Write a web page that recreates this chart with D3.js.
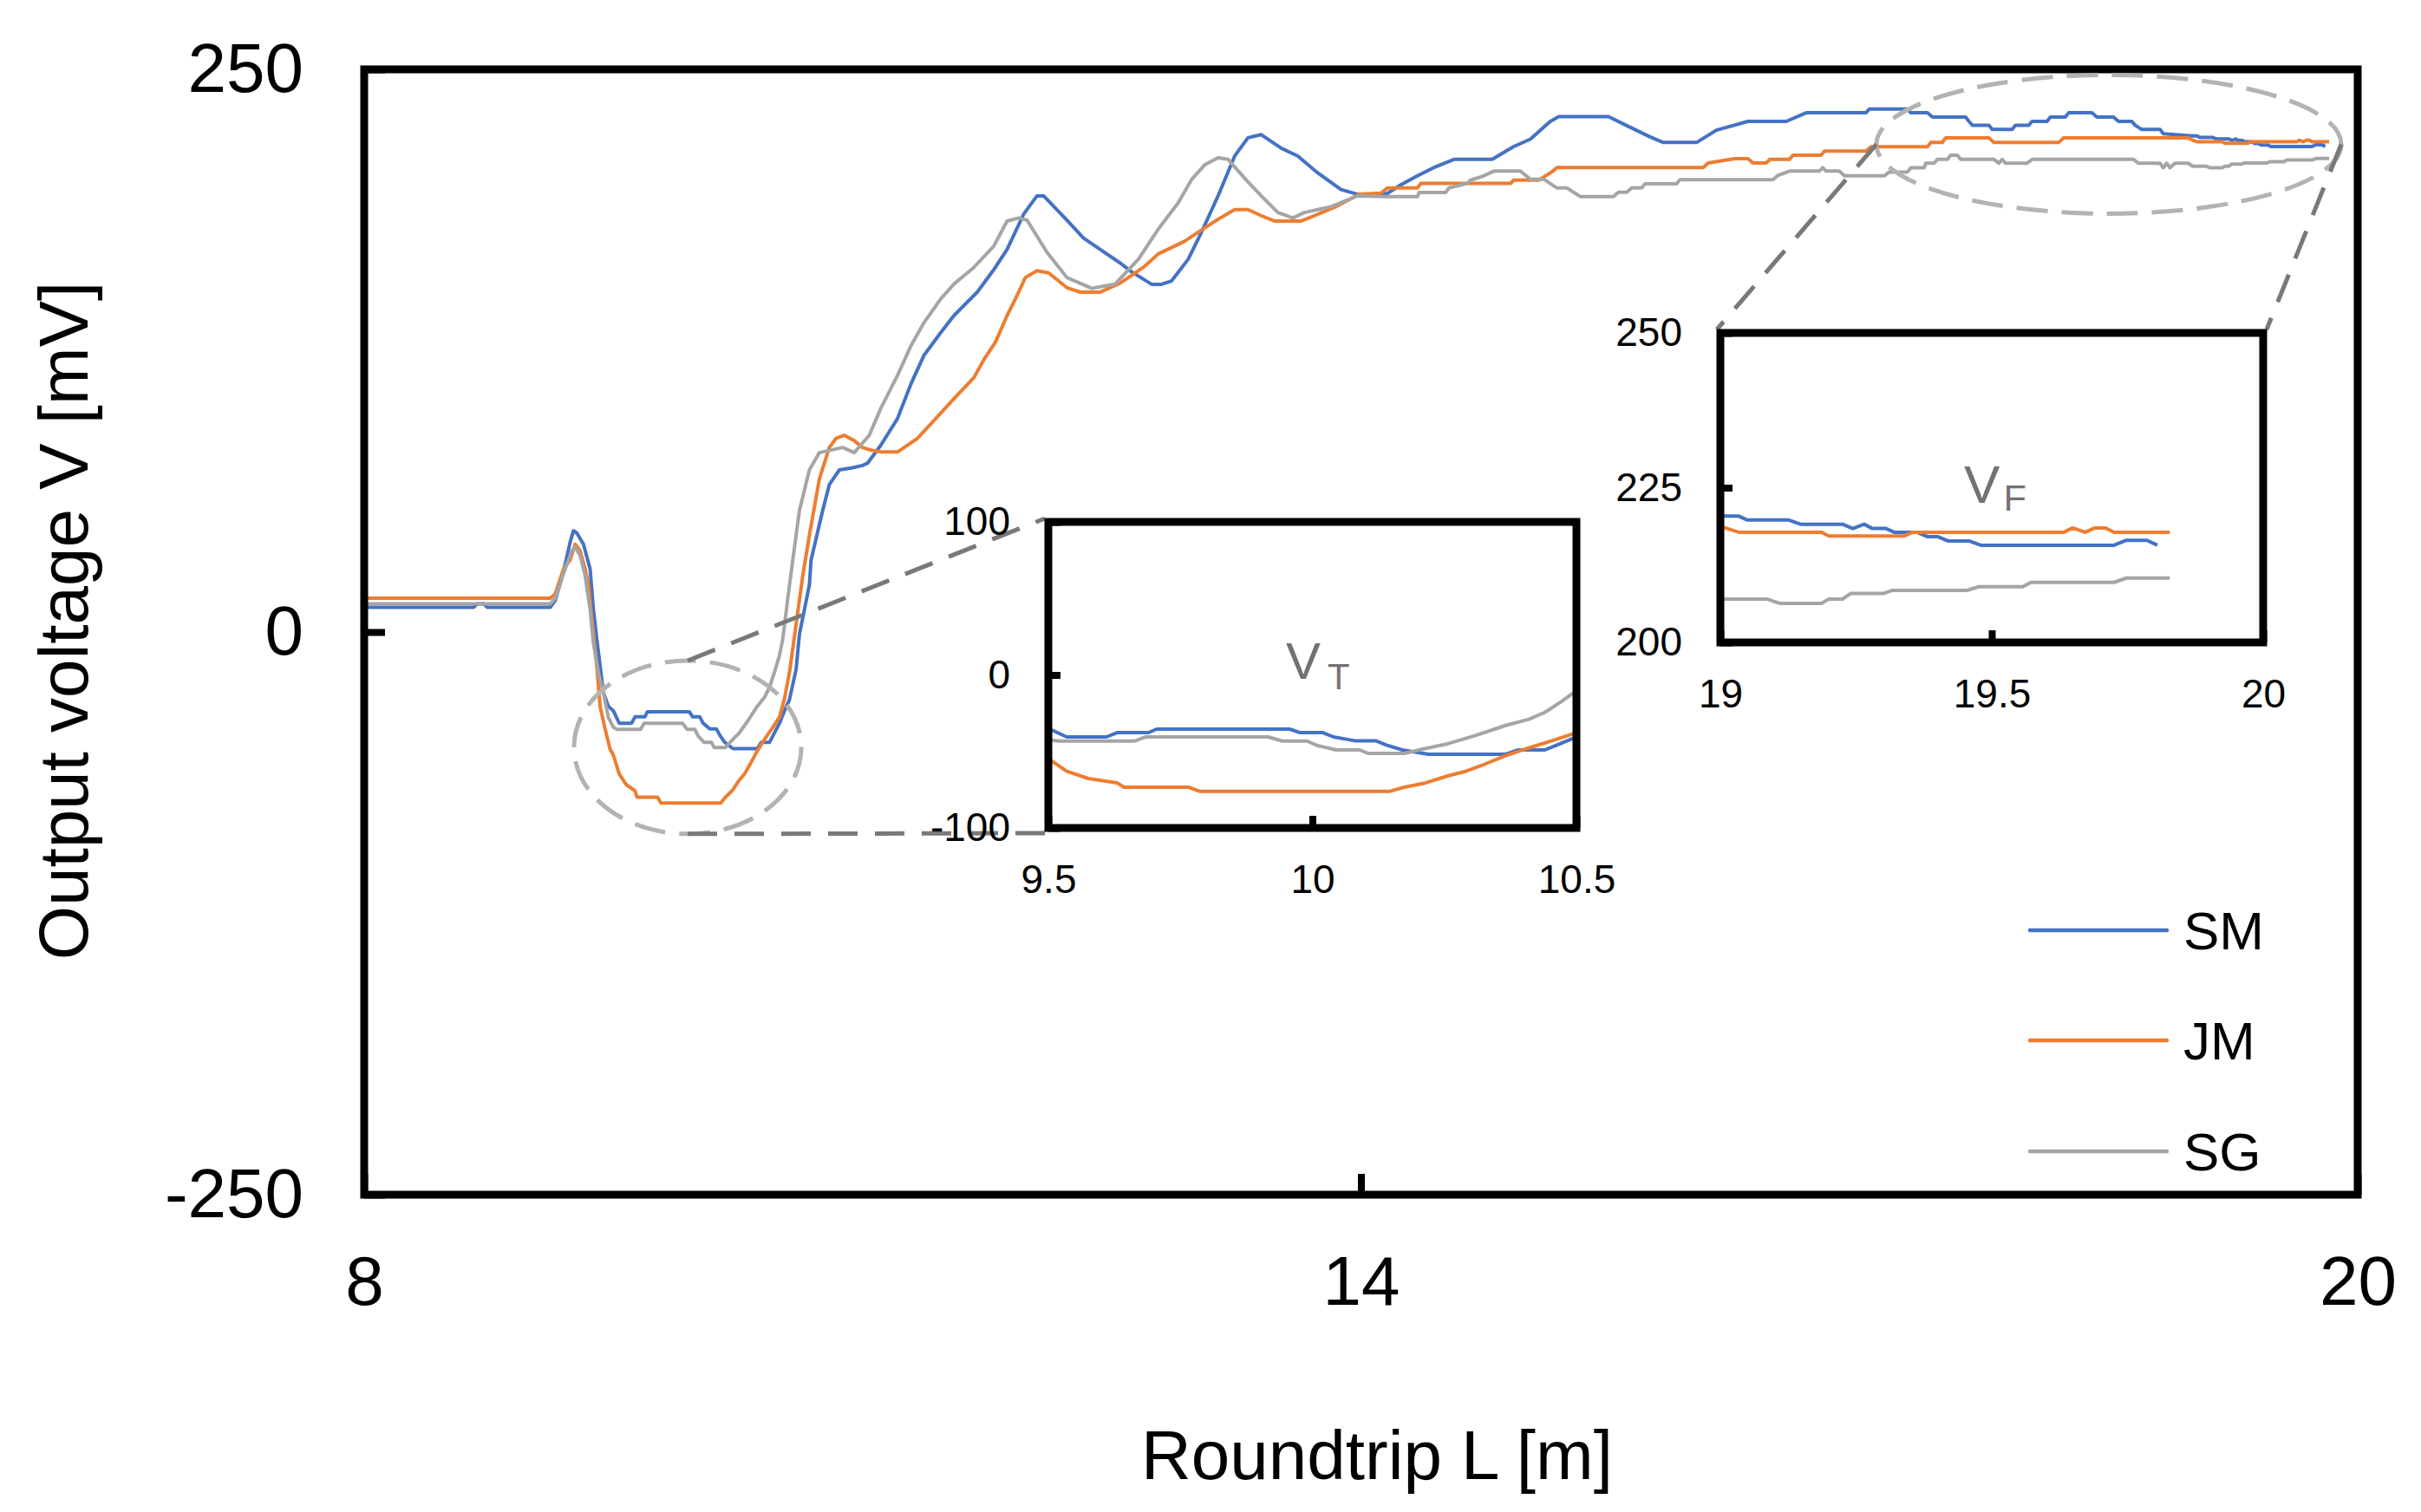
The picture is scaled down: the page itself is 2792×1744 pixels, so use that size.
<!DOCTYPE html>
<html>
<head>
<meta charset="utf-8">
<script src="https://cdn.jsdelivr.net/npm/d3@7"></script>
<style>
  body { margin: 0; background: #fff; }
</style>
</head>
<body>
<script>
// ---- data: [roundtrip L (m), output voltage V (mV)] ----
const smData = [
  [8.00,11],[8.66,11],[8.68,12.5],[8.72,12.5],[8.74,11],[9.12,11],[9.15,14],[9.20,27],[9.24,40],[9.26,45],
  [9.28,44],[9.32,39],[9.36,28],[9.38,10],[9.40,-3],[9.44,-27],[9.47,-33],[9.50,-35],[9.535,-40.5],[9.61,-40.5],
  [9.63,-37.7],[9.69,-37.7],[9.705,-35.4],[9.957,-35.4],[9.977,-37.7],[10.02,-37.7],[10.04,-40.5],[10.08,-43],
  [10.12,-43],[10.14,-45.8],[10.17,-49],[10.22,-51.8],[10.366,-51.8],[10.39,-49],[10.44,-49],[10.46,-46.2],
  [10.50,-40.5],[10.53,-35],[10.56,-30],[10.60,-16.5],[10.62,-1],[10.68,21],[10.69,32],[10.76,54],[10.80,65.5],
  [10.86,72],[10.94,73],[11.00,74],[11.03,75],[11.11,83],[11.21,94.8],[11.29,110],[11.37,123],[11.47,133],
  [11.55,140.6],[11.69,151],[11.79,161],[11.87,170],[11.97,185.7],[12.05,193.8],[12.09,193.8],[12.23,183],
  [12.33,175],[12.43,170],[12.55,164],[12.62,160],[12.74,154.5],[12.80,154.5],[12.86,156],[12.96,165.6],
  [13.04,177.6],[13.14,193.8],[13.24,211.5],[13.32,219.6],[13.40,221],[13.52,215],[13.62,211.5],[13.74,204],
  [13.88,196.6],[13.98,194.5],[14.08,194.5],[14.16,194.9],[14.24,198.7],[14.34,202.7],[14.44,206.4],[14.56,210],
  [14.79,210],[14.92,215.7],[15.02,219],[15.14,226.9],[15.19,229],[15.49,229],[15.60,225],[15.74,220],[15.82,217.5],
  [16.02,217.5],[16.14,223],[16.33,226.9],[16.56,226.9],[16.68,230.7],[17.04,230.7],[17.06,232.4],[17.29,232.4],
  [17.31,230.7],[17.41,230.7],[17.44,228.8],[17.64,228.8],[17.66,226.9],[17.68,225.2],[17.78,225.2],[17.80,223.3],
  [17.92,223.3],[17.94,225.2],[18.02,225.2],[18.04,226.9],[18.13,226.9],[18.15,228.8],[18.24,228.8],[18.26,230.7],
  [18.40,230.7],[18.43,228.8],[18.53,228.8],[18.56,226.9],[18.64,226.9],[18.66,225.2],[18.70,223.3],[18.81,223.3],
  [18.83,221.4],[19.005,220.4],[19.034,220.4],[19.049,219.8],[19.125,219.8],[19.148,219.1],[19.225,219.1],
  [19.244,218.4],[19.265,219.1],[19.28,218.4],[19.305,218.4],[19.32,217.8],[19.362,217.8],[19.381,217.1],
  [19.40,217.1],[19.419,216.4],[19.458,216.4],[19.48,215.7],[19.725,215.7],[19.748,216.5],[19.786,216.5],[19.805,215.7]
];
const jmData = [
  [8.00,15],[9.12,15],[9.15,17],[9.20,28],[9.24,32],[9.27,39],[9.30,36],[9.33,28],[9.35,21],[9.38,-1],[9.40,-15],
  [9.42,-33],[9.45,-43],[9.48,-52],[9.50,-54.7],[9.535,-63],[9.576,-67.7],[9.63,-70.5],[9.643,-73.4],[9.766,-73.4],
  [9.786,-76],[10.147,-76],[10.174,-73.4],[10.215,-70.5],[10.256,-66],[10.29,-63],[10.325,-58.5],[10.366,-52.8],
  [10.407,-48],[10.46,-42.3],[10.50,-37.7],[10.53,-29.6],[10.56,-18],[10.60,3.5],[10.64,25],[10.68,43],[10.74,68],
  [10.80,82],[10.84,86],[10.89,87.4],[10.95,85],[11.00,82],[11.04,81],[11.11,80],[11.21,80],[11.33,86],[11.44,94.8],
  [11.55,103.7],[11.67,113],[11.73,121],[11.80,128.8],[11.87,140.6],[11.93,149.5],[11.98,157.5],[12.05,160.5],
  [12.12,159.6],[12.23,153],[12.31,151],[12.43,151],[12.55,155],[12.69,162],[12.78,168],[12.94,173.7],[13.02,177.6],
  [13.14,183.4],[13.24,187.7],[13.32,187.7],[13.40,185],[13.48,182.6],[13.64,182.6],[13.72,185],[13.85,189],
  [13.99,194.5],[14.12,195],[14.16,197.3],[14.34,197.3],[14.36,199.3],[14.90,199.3],[14.92,200.8],[15.07,200.8],
  [15.15,204.5],[15.18,206.4],[16.06,206.4],[16.09,208.4],[16.25,210.3],[16.33,210.3],[16.36,208.4],[16.44,208.4],
  [16.46,210],[16.58,210],[16.60,211.9],[16.77,211.9],[16.79,213.7],[17.04,213.7],[17.07,215.6],[17.41,215.6],
  [17.43,217.5],[17.50,217.5],[17.52,219.6],[17.78,219.6],[17.81,217.5],[18.20,217.5],[18.23,219.6],[18.98,219.6],
  [19.005,218.6],[19.034,217.8],[19.186,217.8],[19.20,217.2],[19.339,217.2],[19.354,217.8],[19.633,217.8],
  [19.649,218.5],[19.672,217.8],[19.69,218.5],[19.71,218.5],[19.725,217.8],[19.828,217.8]
];
const sgData = [
  [8.00,12.5],[9.12,12.5],[9.15,15],[9.20,26],[9.25,36],[9.27,37.7],[9.30,34],[9.33,25],[9.36,10],[9.38,-5],
  [9.41,-18],[9.44,-27],[9.47,-38],[9.50,-42.3],[9.52,-43.2],[9.664,-43.2],[9.685,-40.5],[9.916,-40.5],[9.943,-43.2],
  [9.99,-43.2],[10.01,-46.2],[10.045,-49],[10.09,-49],[10.106,-51.3],[10.174,-51.3],[10.215,-48],[10.256,-45],
  [10.31,-39.4],[10.366,-33],[10.41,-29],[10.44,-24.5],[10.47,-17.8],[10.50,-10.3],[10.52,-3],[10.55,15],[10.58,32],
  [10.62,54],[10.68,72],[10.74,79.7],[10.88,82],[10.95,79.7],[11.04,87.4],[11.11,99.4],[11.21,114],[11.29,127],
  [11.37,137.5],[11.47,148],[11.55,154.6],[11.67,162],[11.79,171.5],[11.87,182.6],[11.94,184],[11.99,183],
  [12.11,168.7],[12.23,157.5],[12.38,152.7],[12.52,154.6],[12.66,165.6],[12.78,179],[12.90,190.7],[12.98,201],
  [13.06,207.6],[13.14,210.7],[13.20,210],[13.32,200],[13.40,193.8],[13.50,186.4],[13.59,184],[13.66,186.4],
  [13.82,189],[13.98,193.8],[14.16,193.5],[14.34,193.5],[14.35,195.3],[14.51,195.3],[14.53,197.3],[14.64,199.3],
  [14.66,200.8],[14.74,202.7],[14.80,204.8],[14.96,204.8],[15.02,201.2],[15.10,201.2],[15.18,197.3],[15.24,197.3],
  [15.32,193.5],[15.52,193.5],[15.55,195.4],[15.60,195.4],[15.63,197.3],[15.69,197.3],[15.71,199.2],[15.90,199.2],
  [15.92,201],[16.48,201],[16.51,202.9],[16.58,204.8],[16.76,204.8],[16.78,206.3],[16.80,204.8],[16.88,204.8],
  [16.91,202.7],[17.15,202.7],[17.18,204.4],[17.29,204.4],[17.31,206.3],[17.39,206.3],[17.40,208.3],[17.45,208.3],
  [17.47,210],[17.53,210],[17.55,211.9],[17.59,211.9],[17.61,210],[17.81,210],[17.84,208.3],[17.86,210],[17.88,208.3],
  [18.01,208.3],[18.04,210],[18.65,210],[18.68,208.3],[18.81,208.3],[18.83,206.3],[18.85,208.3],[18.87,206.3],
  [18.90,208.3],[18.98,208.3],[19.005,207],[19.087,207],[19.11,206.3],[19.186,206.3],[19.20,207],[19.225,207],
  [19.24,207.9],[19.30,207.9],[19.316,208.4],[19.454,208.4],[19.476,209],[19.557,209],[19.572,209.7],[19.725,209.7],
  [19.748,210.4],[19.828,210.4]
];
const seriesNames = ["SM", "JM", "SG"];

const xTicks = [8, 14, 20];
const yTicks = [-250, 0, 250];
const tXTicks = [9.5, 10, 10.5];
const tYTicks = [-100, 0, 100];
const fXTicks = [19, 19.5, 20];
const fYTicks = [200, 225, 250];

// ---- layout ----
const W = 2792, H = 1744;
const FONT = '"Liberation Sans", Arial, sans-serif';
const colors = { SM: "#4472C4", JM: "#ED7D31", SG: "#A5A5A5" };
const seriesData = { SM: smData, JM: jmData, SG: sgData };

const svg = d3.select("body").append("svg")
  .attr("width", W).attr("height", H);
svg.append("rect").attr("width", W).attr("height", H).attr("fill", "#fff");

const series = seriesNames.map(n => ({ name: n, data: seriesData[n], color: colors[n] }));

// draws one framed plot (main chart or an inset)
function panel(id, box, xDomain, yDomain, o) {
  const x = d3.scaleLinear().domain(xDomain).range([box.x0, box.x1]);
  const y = d3.scaleLinear().domain(yDomain).range([box.y1, box.y0]);
  const g = svg.append("g");

  g.append("rect")
    .attr("x", box.x0).attr("y", box.y0)
    .attr("width", box.x1 - box.x0).attr("height", box.y1 - box.y0)
    .attr("fill", "#fff");

  svg.append("clipPath").attr("id", id).append("rect")
    .attr("x", box.x0).attr("y", box.y0)
    .attr("width", box.x1 - box.x0).attr("height", box.y1 - box.y0);

  const line = d3.line().x(d => x(d[0])).y(d => y(d[1]));
  g.append("g").attr("clip-path", `url(#${id})`)
    .selectAll("path").data(series).join("path")
    .attr("d", s => line(s.data))
    .attr("fill", "none")
    .attr("stroke", s => s.color)
    .attr("stroke-width", o.lineW)
    .attr("stroke-linejoin", "round");

  const yAxis = d3.axisLeft(y).tickValues(o.yTicks)
    .tickSizeInner(-o.tick).tickSizeOuter(0).tickPadding(o.yPad)
    .tickFormat(d => String(d));
  const gy = g.append("g").attr("transform", `translate(${box.x0},0)`).call(yAxis);

  const xAxis = d3.axisBottom(x).tickValues(o.xTicks)
    .tickSizeInner(-o.tick).tickSizeOuter(0).tickPadding(o.xPad)
    .tickFormat(d => String(d));
  const gx = g.append("g").attr("transform", `translate(0,${box.y1})`).call(xAxis);

  [gx, gy].forEach(a => {
    a.select(".domain").remove();
    a.attr("font-family", FONT).attr("font-size", o.fs);
    a.selectAll("line").attr("stroke", "#000").attr("stroke-width", o.tickW);
    a.selectAll("text").attr("fill", "#000");
  });

  g.append("rect")
    .attr("x", box.x0).attr("y", box.y0)
    .attr("width", box.x1 - box.x0).attr("height", box.y1 - box.y0)
    .attr("fill", "none").attr("stroke", "#000").attr("stroke-width", o.frameW);

  return { x, y, g };
}

const mainBox = { x0: 420, x1: 2719, y0: 80, y1: 1378 };
const main = panel("clipMain", mainBox, [8, 20], [-250, 250],
  { xTicks, yTicks, tick: 24, tickW: 8, yPad: 70, xPad: 70, fs: 80, lineW: 4, frameW: 9 });

// callout ellipses in data units of the main chart
const zoomT = { cx: 9.947, cy: -51.2, rx: 0.684, ry: 38.5 };
const zoomF = { cx: 18.502, cy: 216.7, rx: 1.399, ry: 30.8 };

const tBox = { x0: 1209, x1: 1818, y0: 602, y1: 955 };
const fBox = { x0: 1984, x1: 2610, y0: 384, y1: 741 };

const ann = svg.append("g");
function ellipse(z) {
  const cx = main.x(z.cx), cy = main.y(z.cy);
  const rx = main.x(z.cx + z.rx) - cx, ry = cy - main.y(z.cy + z.ry);
  ann.append("ellipse")
    .attr("cx", cx).attr("cy", cy).attr("rx", rx).attr("ry", ry)
    .attr("fill", "none").attr("stroke", "#b4b2b2")
    .attr("stroke-width", 5).attr("stroke-dasharray", "36 16");
  return { cx, cy, rx, ry };
}
function connector(p, q) {
  ann.append("line")
    .attr("x1", p[0]).attr("y1", p[1]).attr("x2", q[0]).attr("y2", q[1])
    .attr("stroke", "#7a7878").attr("stroke-width", 5).attr("stroke-dasharray", "34 20");
}
const eT = ellipse(zoomT);
const eF = ellipse(zoomF);
connector([eT.cx, eT.cy - eT.ry], [tBox.x0 - 4, tBox.y0 - 4]);
connector([eT.cx, eT.cy + eT.ry], [tBox.x0 - 4, tBox.y1 + 6]);
connector([eF.cx - eF.rx, eF.cy], [fBox.x0 - 4, fBox.y0 - 4]);
connector([eF.cx + eF.rx, eF.cy], [fBox.x1 + 4, fBox.y0 - 4]);

// insets
const insetOpt = { tick: 14, tickW: 8, yPad: 44, xPad: 42, fs: 46, lineW: 4, frameW: 9 };
const insT = panel("clipT", tBox, [9.5, 10.5], [-100, 100],
  Object.assign({ xTicks: tXTicks, yTicks: tYTicks }, insetOpt));
const insF = panel("clipF", fBox, [19, 20], [200, 250],
  Object.assign({ xTicks: fXTicks, yTicks: fYTicks }, insetOpt));

function subLabel(ins, at, main, sub, fs, dx, dy) {
  const t = ins.g.append("text")
    .attr("x", ins.x(at[0])).attr("y", ins.y(at[1]))
    .attr("font-family", FONT).attr("font-size", fs).attr("fill", "#767171");
  t.append("tspan").text(main);
  t.append("tspan").attr("dx", dx).attr("dy", dy).attr("font-size", fs * 0.7).text(sub);
}
subLabel(insT, [9.95, -2.5], "V", "T", 60, 8, 12);
subLabel(insF, [19.449, 222.5], "V", "F", 62, 4, 9);

// legend
const legY = [1073, 1200, 1328];
const leg = svg.append("g");
seriesNames.forEach((n, i) => {
  leg.append("line")
    .attr("x1", 2341).attr("x2", 2499).attr("y1", legY[i]).attr("y2", legY[i])
    .attr("stroke", colors[n]).attr("stroke-width", 4.5).attr("stroke-linecap", "round");
  leg.append("text")
    .attr("x", 2518).attr("y", legY[i] + 22)
    .attr("font-family", FONT).attr("font-size", 62).attr("fill", "#000")
    .text(n);
});

// axis titles
svg.append("text")
  .attr("x", 1588).attr("y", 1706)
  .attr("text-anchor", "middle")
  .attr("font-family", FONT).attr("font-size", 80).attr("fill", "#000")
  .text("Roundtrip L [m]");
svg.append("text")
  .attr("transform", "translate(101,716) rotate(-90)")
  .attr("text-anchor", "middle")
  .attr("font-family", FONT).attr("font-size", 80).attr("fill", "#000")
  .text("Output voltage V [mV]");
</script>
</body>
</html>
